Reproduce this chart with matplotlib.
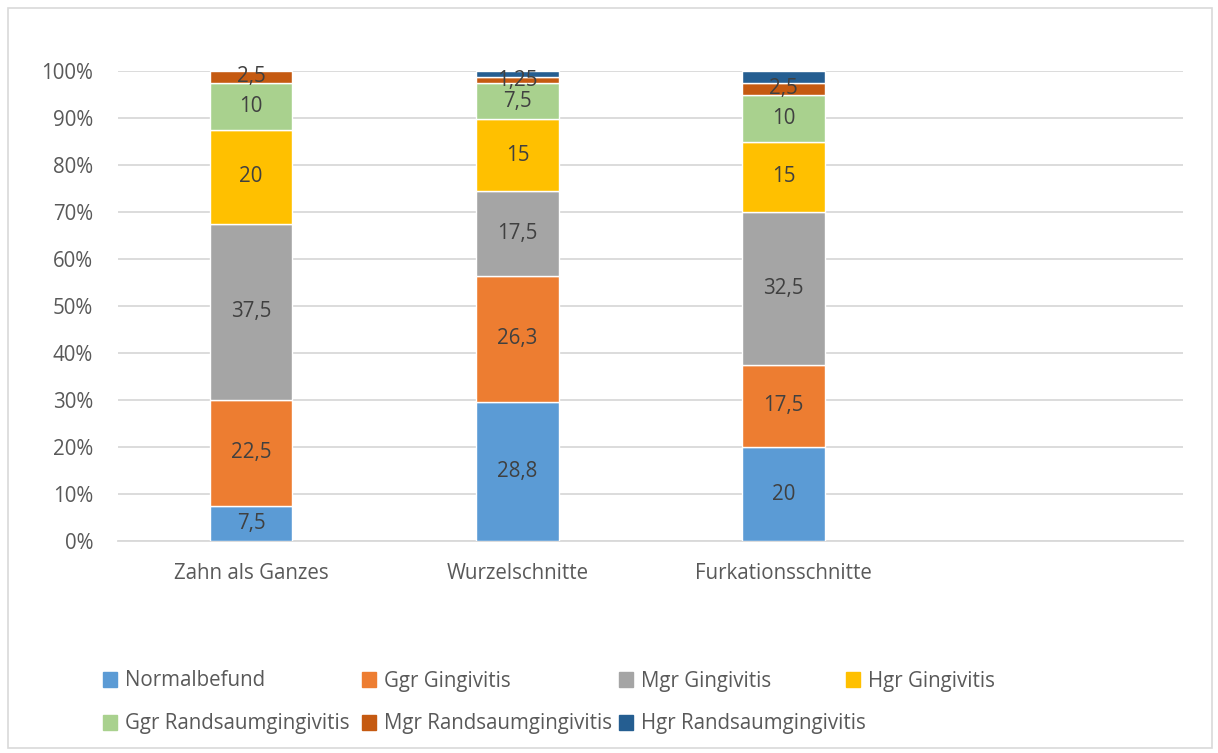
import numpy as np
import matplotlib
matplotlib.use("Agg")
import matplotlib.pyplot as plt
from matplotlib.patches import Rectangle, Patch

# data (values as shown in the bar labels)
categories = ["Zahn als Ganzes", "Wurzelschnitte", "Furkationsschnitte", ""]
series = ["Normalbefund", "Ggr Gingivitis", "Mgr Gingivitis", "Hgr Gingivitis",
          "Ggr Randsaumgingivitis", "Mgr Randsaumgingivitis", "Hgr Randsaumgingivitis"]
normalbefund = [7.5, 28.8, 20, 0]
ggr_gingivitis = [22.5, 26.3, 17.5, 0]
mgr_gingivitis = [37.5, 17.5, 32.5, 0]
hgr_gingivitis = [20, 15, 15, 0]
ggr_rand = [10, 7.5, 10, 0]
mgr_rand = [2.5, 1.25, 2.5, 0]
hgr_rand = [0, 1.25, 2.5, 0]
yticks = [0, 10, 20, 30, 40, 50, 60, 70, 80, 90, 100]

colors = ["#5B9BD5", "#ED7D31", "#A5A5A5", "#FFC000", "#A9D18E", "#C55A11", "#255E91"]
show_labels = [True, True, True, True, True, True, False]

FONT = "Open Sans"
FS = 14.8
TXT = "#595959"
plt.rcParams["font.family"] = [FONT, "DejaVu Sans"]


def fmt(v):
    return ("%g" % v).replace(".", ",")


def main():
    data = np.array([normalbefund, ggr_gingivitis, mgr_gingivitis, hgr_gingivitis,
                     ggr_rand, mgr_rand, hgr_rand], dtype=float)
    totals = data.sum(axis=0)
    pct = np.zeros_like(data)
    ok = totals > 0
    pct[:, ok] = data[:, ok] / totals[ok] * 100

    fig = plt.figure(figsize=(12.18, 7.53), dpi=100)
    fig.patches.append(Rectangle((8 / 1218, 5 / 753), 1204 / 1218, 740 / 753,
                                 transform=fig.transFigure, fill=False,
                                 edgecolor="#D9D9D9", lw=1.2))
    ax = fig.add_axes([118 / 1218, 1 - 541 / 753, 1065 / 1218, 470 / 753])

    x = np.arange(len(categories))
    bottom = np.zeros(len(categories))
    handles = []
    for i, name in enumerate(series):
        lw = [1 if v > 0 else 0 for v in data[i]]
        ax.bar(x, pct[i], 0.31, bottom=bottom, color=colors[i],
               edgecolor="white", linewidth=lw, zorder=3)
        handles.append(Patch(color=colors[i], label=name))
        if show_labels[i]:
            for j in range(len(categories)):
                if data[i, j] > 0:
                    ax.text(x[j], bottom[j] + pct[i, j] / 2, fmt(data[i, j]),
                            ha="center", va="center", fontsize=FS,
                            color="#404040", zorder=4)
        bottom += pct[i]

    ax.set_xlim(-0.5, len(categories) - 0.5)
    ax.set_ylim(0, 100)
    ax.set_yticks(yticks)
    ax.set_yticklabels(["%d%%" % t for t in yticks])
    ax.set_xticks(x)
    ax.set_xticklabels(categories)
    ax.tick_params(axis="both", length=0, labelsize=FS, labelcolor=TXT)
    ax.tick_params(axis="x", pad=16)
    ax.tick_params(axis="y", pad=18)
    ax.grid(axis="y", color="#D9D9D9", lw=1.3, zorder=0)
    for s in ["top", "right", "left"]:
        ax.spines[s].set_visible(False)
    ax.spines["bottom"].set_color("#D9D9D9")
    ax.spines["bottom"].set_linewidth(1.3)

    # legend laid out like Excel: two rows, fixed columns
    leg_pos = [(103, 681), (362, 681), (619, 681), (846, 681),
               (103, 724), (362, 724), (619, 724)]
    for h, (px, py) in zip(handles, leg_pos):
        fig.legend(handles=[h], loc="center left",
                   bbox_to_anchor=(px / 1218, 1 - py / 753),
                   frameon=False, fontsize=FS, labelcolor=TXT,
                   handlelength=0.7, handleheight=0.7, handletextpad=0.35,
                   borderpad=0, borderaxespad=0)

    fig.savefig("out.png", dpi=100)


if __name__ == "__main__":
    main()
